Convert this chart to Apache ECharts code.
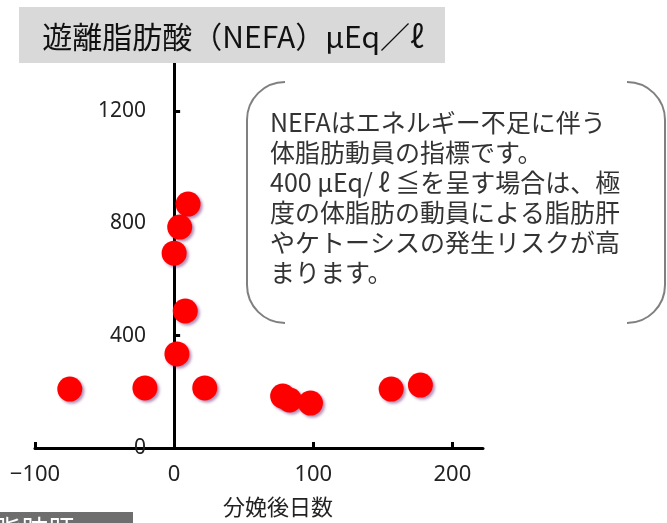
<!DOCTYPE html>
<html>
<head>
<meta charset="utf-8">
<script src="https://cdn.jsdelivr.net/npm/echarts@6/dist/echarts.min.js"></script>
<style>
  html, body { margin: 0; padding: 0; background: #fff; }
  #chart { width: 667px; height: 523px; }
</style>
</head>
<body>
<div id="chart"></div>
<script>
// days after calving vs NEFA (μEq/ℓ)
var xDays = [-75, -21, 22, 78, 83, 98, 156, 177, 2, 10, 4, 0, 8];
var nefaValues = [210, 214, 214, 185, 171, 160, 210, 224, 335, 869, 787, 694, 488];

var titleText = '遊離脂肪酸（NEFA）μEq／ℓ';
var xAxisName = '分娩後日数';
var noteLines = [
    'NEFAはエネルギー不足に伴う',
    '体脂肪動員の指標です。',
    '400 μEq/ ℓ ≦を呈す場合は、極',
    '度の体脂肪の動員による脂肪肝',
    'やケトーシスの発生リスクが高',
    'まります。'
];
var footerText = '脂肪肝';

var points = xDays.map(function (d, i) { return [d, nefaValues[i]]; });

var labelFont = '"Noto Sans", "Noto Sans CJK JP", sans-serif';
var cjkFont = '"Noto Sans CJK JP", sans-serif';

// rounded "bracket" frame around the note, top and bottom left open
var bracketStyle = { fill: 'none', stroke: '#808080', lineWidth: 2 };
var R = 38;
function corner(cx, cy, a0, a1) {
    return { type: 'arc', z: 100, shape: { cx: cx, cy: cy, r: R, startAngle: a0 * Math.PI, endAngle: a1 * Math.PI }, style: bracketStyle };
}
function side(x) {
    return { type: 'line', z: 100, shape: { x1: x, y1: 82 + R, x2: x, y2: 323 - R }, style: bracketStyle };
}
var frame = [
    corner(247 + R, 82 + R, 1, 1.5), side(247), corner(247 + R, 323 - R, 0.5, 1),
    corner(665 - R, 82 + R, 1.5, 2), side(665), corner(665 - R, 323 - R, 0, 0.5)
];

var chart = echarts.init(document.getElementById('chart'));
chart.setOption({
    animation: false,
    backgroundColor: '#ffffff',
    grid: { left: 35, right: 184, top: 62, bottom: 75, containLabel: false, outerBoundsMode: 'none' },
    xAxis: {
        type: 'value', min: -100, max: 222, interval: 100,
        name: xAxisName, nameLocation: 'middle', nameGap: 48,
        nameTextStyle: { fontFamily: cjkFont, fontSize: 22, color: '#222', padding: [0, 0, 0, 38] },
        splitLine: { show: false },
        axisLine: { lineStyle: { color: '#000', width: 3 } },
        axisTick: { inside: true, length: 6, lineStyle: { color: '#000', width: 3 } },
        axisLabel: {
            showMaxLabel: false, margin: 16, fontFamily: labelFont, fontSize: 22, color: '#222',
            formatter: function (v) { return String(v).replace('-', '−'); }
        }
    },
    yAxis: {
        type: 'value', min: 0, max: 1375, interval: 400,
        splitLine: { show: false },
        axisLine: { onZero: true, lineStyle: { color: '#000', width: 3 } },
        axisTick: { inside: true, length: 6, lineStyle: { color: '#000', width: 3 } },
        // labels stay at the grid's left edge, so pull them over next to the x=0 axis line
        axisLabel: {
            showMaxLabel: false, margin: -111, align: 'right', fontFamily: labelFont, fontSize: 21, color: '#222',
            formatter: function (v) { return String(v); }
        }
    },
    series: [{
        type: 'scatter',
        data: points,
        symbolSize: 25,
        itemStyle: {
            color: '#ff0000', opacity: 1,
            shadowColor: 'rgba(90, 0, 90, 0.45)', shadowBlur: 3, shadowOffsetX: 2, shadowOffsetY: 2
        },
        z: 3
    }],
    graphic: frame.concat([
        { type: 'rect', z: 100, shape: { x: 19, y: 7, width: 426, height: 56 }, style: { fill: '#d9d9d9' } },
        {
            type: 'text', z: 101, x: 233, y: 37,
            style: { text: titleText, fontFamily: cjkFont, fontSize: 30, fill: '#111', align: 'center', verticalAlign: 'middle' }
        },
        {
            type: 'text', z: 101, x: 270, y: 107,
            style: { text: noteLines.join('\n'), fontFamily: cjkFont, fontSize: 25, lineHeight: 30, fill: '#333' }
        },
        { type: 'rect', z: 100, shape: { x: 0, y: 512, width: 133, height: 20 }, style: { fill: '#6e6e6e' } },
        {
            type: 'text', z: 101, x: -6, y: 516,
            style: { text: footerText, fontFamily: cjkFont, fontSize: 27, fill: '#ffffff' }
        }
    ])
});
</script>
</body>
</html>
